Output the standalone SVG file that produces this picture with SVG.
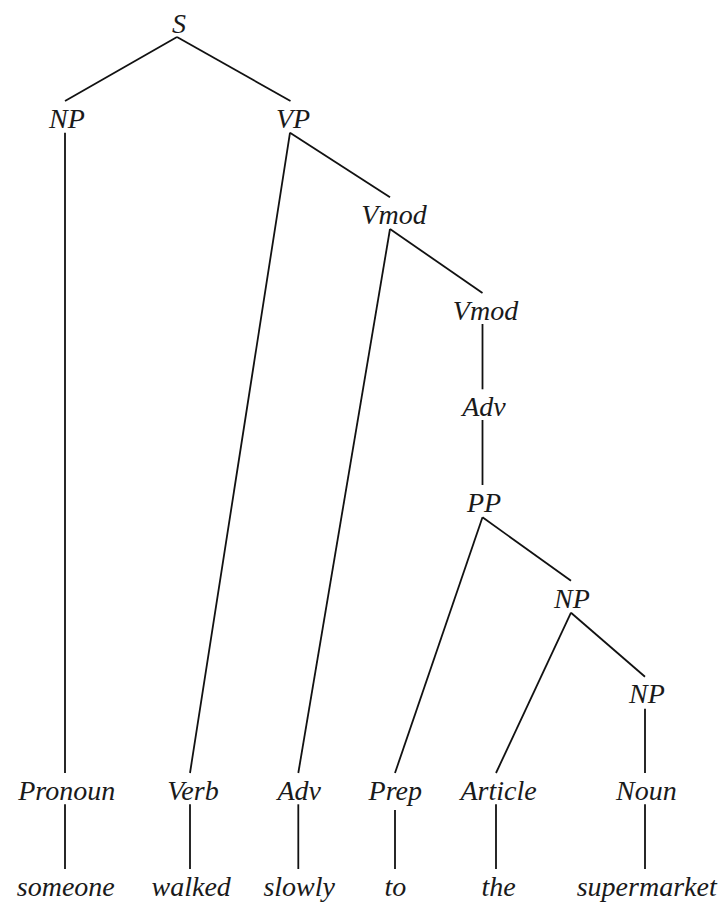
<svg xmlns="http://www.w3.org/2000/svg" width="727" height="902" viewBox="0 0 727 902">
<style>
  .edge { stroke: #111; stroke-width: 1.8; fill: none; stroke-linecap: butt; }
</style>
<rect width="727" height="902" fill="#ffffff"/>
<g id="connectors">
  <line class="edge" x1="177" y1="37" x2="65" y2="101"/>
  <line class="edge" x1="177" y1="37" x2="290.5" y2="101"/>
  <line class="edge" x1="65" y1="132.7" x2="65" y2="773"/>
  <line class="edge" x1="290" y1="132.7" x2="190" y2="773"/>
  <line class="edge" x1="290" y1="132.7" x2="390" y2="197.3"/>
  <line class="edge" x1="390" y1="229" x2="298.3" y2="773"/>
  <line class="edge" x1="390" y1="229" x2="482.5" y2="293"/>
  <line class="edge" x1="482.5" y1="324" x2="482.5" y2="389.3"/>
  <line class="edge" x1="482.5" y1="420" x2="482.5" y2="485"/>
  <line class="edge" x1="482.5" y1="517.3" x2="395" y2="773"/>
  <line class="edge" x1="482.5" y1="517.3" x2="571" y2="580.7"/>
  <line class="edge" x1="571" y1="612.7" x2="496" y2="773"/>
  <line class="edge" x1="571" y1="612.7" x2="645" y2="676.7"/>
  <line class="edge" x1="645" y1="708.7" x2="645" y2="773"/>
  <line class="edge" x1="65" y1="804.3" x2="65" y2="869"/>
  <line class="edge" x1="190" y1="804.3" x2="190" y2="869"/>
  <line class="edge" x1="298.3" y1="804.3" x2="298.3" y2="869"/>
  <line class="edge" x1="395" y1="810" x2="395" y2="869"/>
  <line class="edge" x1="496" y1="804.3" x2="496" y2="869"/>
  <line class="edge" x1="645" y1="804.3" x2="645" y2="869"/>
</g>
<g id="n-S"><text x="179" y="33" font-family="Liberation Serif" font-style="italic" font-size="28" fill="#1a1a1a" text-anchor="middle">S</text></g>
<g id="n-NP1"><text x="67" y="128" font-family="Liberation Serif" font-style="italic" font-size="28" fill="#1a1a1a" text-anchor="middle">NP</text></g>
<g id="n-VP"><text x="293" y="128" font-family="Liberation Serif" font-style="italic" font-size="28" fill="#1a1a1a" text-anchor="middle">VP</text></g>
<g id="n-Vmod1"><text x="394" y="224" font-family="Liberation Serif" font-style="italic" font-size="28" fill="#1a1a1a" text-anchor="middle">Vmod</text></g>
<g id="n-Vmod2"><text x="485.5" y="320" font-family="Liberation Serif" font-style="italic" font-size="28" fill="#1a1a1a" text-anchor="middle">Vmod</text></g>
<g id="n-Adv1"><text x="484" y="416" font-family="Liberation Serif" font-style="italic" font-size="28" fill="#1a1a1a" text-anchor="middle">Adv</text></g>
<g id="n-PP"><text x="484" y="512" font-family="Liberation Serif" font-style="italic" font-size="28" fill="#1a1a1a" text-anchor="middle">PP</text></g>
<g id="n-NP2"><text x="572" y="607.5" font-family="Liberation Serif" font-style="italic" font-size="28" fill="#1a1a1a" text-anchor="middle">NP</text></g>
<g id="n-NP3"><text x="647" y="703" font-family="Liberation Serif" font-style="italic" font-size="28" fill="#1a1a1a" text-anchor="middle">NP</text></g>
<g id="n-Pronoun"><text x="66.7" y="800" font-family="Liberation Serif" font-style="italic" font-size="28" fill="#1a1a1a" text-anchor="middle">Pronoun</text></g>
<g id="n-Verb"><text x="193" y="800" font-family="Liberation Serif" font-style="italic" font-size="28" fill="#1a1a1a" text-anchor="middle">Verb</text></g>
<g id="n-Adv2"><text x="299.2" y="800" font-family="Liberation Serif" font-style="italic" font-size="28" fill="#1a1a1a" text-anchor="middle">Adv</text></g>
<g id="n-Prep"><text x="395.3" y="800" font-family="Liberation Serif" font-style="italic" font-size="28" fill="#1a1a1a" text-anchor="middle">Prep</text></g>
<g id="n-Article"><text x="498.5" y="800" font-family="Liberation Serif" font-style="italic" font-size="28" fill="#1a1a1a" text-anchor="middle">Article</text></g>
<g id="n-Noun"><text x="646.3" y="800" font-family="Liberation Serif" font-style="italic" font-size="28" fill="#1a1a1a" text-anchor="middle">Noun</text></g>
<g id="w-someone"><text x="65.8" y="896" font-family="Liberation Serif" font-style="italic" font-size="28" fill="#1a1a1a" text-anchor="middle">someone</text></g>
<g id="w-walked"><text x="191.2" y="896" font-family="Liberation Serif" font-style="italic" font-size="28" fill="#1a1a1a" text-anchor="middle">walked</text></g>
<g id="w-slowly"><text x="299.2" y="896" font-family="Liberation Serif" font-style="italic" font-size="28" fill="#1a1a1a" text-anchor="middle">slowly</text></g>
<g id="w-to"><text x="395.3" y="896" font-family="Liberation Serif" font-style="italic" font-size="28" fill="#1a1a1a" text-anchor="middle">to</text></g>
<g id="w-the"><text x="498.5" y="896" font-family="Liberation Serif" font-style="italic" font-size="28" fill="#1a1a1a" text-anchor="middle">the</text></g>
<g id="w-supermarket"><text x="646.7" y="896" font-family="Liberation Serif" font-style="italic" font-size="28" fill="#1a1a1a" text-anchor="middle">supermarket</text></g>
</svg>
